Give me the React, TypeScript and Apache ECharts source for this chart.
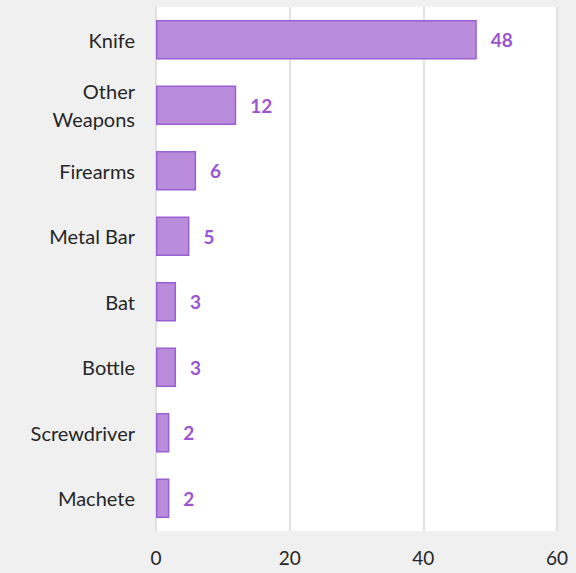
import React, { useEffect, useRef } from "react";
import * as echarts from "echarts";

const categories = ["Knife", "Other\nWeapons", "Firearms", "Metal Bar", "Bat", "Bottle", "Screwdriver", "Machete"];
const values = [48, 12, 6, 5, 3, 3, 2, 2];
const xTicks = { min: 0, max: 60, interval: 20 };

export default function App() {
  const ref = useRef<HTMLDivElement>(null);
  useEffect(() => {
    if (!ref.current) return;
    const chart = echarts.init(ref.current, null, { renderer: "svg" });
    const font = "Lato, 'Open Sans', sans-serif";
    chart.setOption({
      animation: false,
      backgroundColor: "#f0f0f0",
      grid: {
        left: 156,
        right: 19,
        top: 7,
        bottom: 42,
        show: true,
        backgroundColor: "#ffffff",
        borderWidth: 0,
      },
      xAxis: {
        type: "value",
        min: xTicks.min,
        max: xTicks.max,
        interval: xTicks.interval,
        axisLine: { show: false },
        axisTick: { show: false },
        splitLine: { show: true, lineStyle: { color: "#d9d9d9", width: 1.5 } },
        axisLabel: { color: "#262626", fontSize: 19, fontFamily: font, margin: 17 },
      },
      yAxis: {
        type: "category",
        data: categories,
        inverse: true,
        axisLine: { show: false },
        axisTick: { show: false },
        axisLabel: { color: "#262626", fontSize: 20, fontFamily: font, margin: 21, lineHeight: 28, align: "right" },
      },
      series: [
        {
          type: "bar",
          data: values,
          barCategoryGap: "40%",
          itemStyle: { color: "#b98cdc", borderColor: "#9b5fd4", borderWidth: 1.5 },
          label: {
            show: true,
            position: "right",
            distance: 14,
            color: "#9b55d2",
            fontSize: 19,
            fontWeight: "bold",
            fontFamily: font,
          },
        },
      ],
    });
    return () => chart.dispose();
  }, []);
  return (
    <div
      ref={ref}
      style={{ position: "fixed", left: 0, top: 0, width: 576, height: 573 }}
    />
  );
}
